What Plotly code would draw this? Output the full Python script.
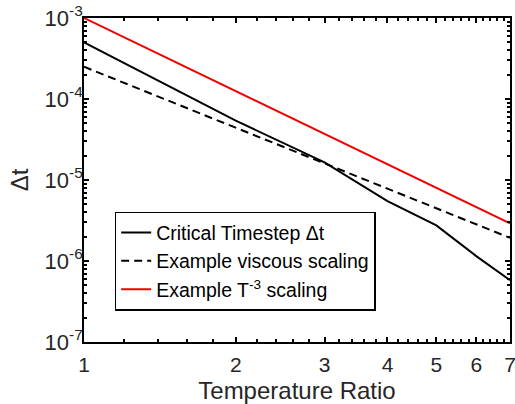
import math
import plotly.graph_objects as go

# Temperature ratio samples
temp_ratio = [1, 2, 3, 4, 5, 6, 7]

# Critical timestep found at each temperature ratio
critical_dt = [5.0e-4, 5.4e-5, 1.65e-5, 5.5e-6, 2.75e-6, 1.15e-6, 5.8e-7]

# Example viscous scaling curve
viscous_dt = [2.5e-4, 4.42e-5, 1.6e-5, 7.8e-6, 4.47e-6, 2.84e-6, 1.93e-6]

# Example T^-3 scaling curve
cubic_dt = [1.0e-3, 1.25e-4, 3.7e-5, 1.56e-5, 8.0e-6, 4.63e-6, 2.92e-6]

# Axis ticks
x_ticks = [1, 2, 3, 4, 5, 6, 7]
y_ticks = [1e-7, 1e-6, 1e-5, 1e-4, 1e-3]
y_ticktext = ["10<sup>-7</sup>", "10<sup>-6</sup>", "10<sup>-5</sup>",
              "10<sup>-4</sup>", "10<sup>-3</sup>"]

# Minor tick positions: every 0.2 along x, 2..9 within each decade along y
x_minor = [round(1 + 0.2 * i, 1) for i in range(1, 30)]
x_minor = [v for v in x_minor if v not in x_ticks]
y_minor = [m * 10.0 ** e for e in range(-7, -3) for m in range(2, 10)]

FONT = "Liberation Sans, Arial, Helvetica, sans-serif"
TEXT = "#262626"

fig = go.Figure()
fig.add_trace(go.Scatter(
    x=temp_ratio, y=critical_dt, mode="lines",
    name="Critical Timestep \u0394t",
    line=dict(color="black", width=2),
))
fig.add_trace(go.Scatter(
    x=temp_ratio, y=viscous_dt, mode="lines",
    name="Example viscous scaling",
    line=dict(color="black", width=2, dash="8px,5px"),
))
fig.add_trace(go.Scatter(
    x=temp_ratio, y=cubic_dt, mode="lines",
    name="Example T<sup>-3</sup> scaling",
    line=dict(color="#f00000", width=2),
))

axis_common = dict(
    showline=True, linecolor="black", linewidth=1.8, mirror="ticks",
    ticks="inside", tickcolor="black", ticklen=5, tickwidth=1.5,
    showgrid=False, zeroline=False, automargin=False,
    ticklabeloverflow="allow",
)

fig.update_xaxes(
    type="log", range=[0, math.log10(7)],
    tickmode="array", tickvals=x_ticks, ticktext=[str(v) for v in x_ticks],
    tickfont=dict(family=FONT, size=21, color=TEXT),
    minor=dict(ticks="inside", ticklen=3, tickwidth=1.5, tickcolor="black",
               tickmode="array", tickvals=x_minor, showgrid=False),
    ticklabelstandoff=3,
    title=dict(text="Temperature Ratio",
               font=dict(family=FONT, size=24, color=TEXT), standoff=9),
    **axis_common,
)
fig.update_yaxes(
    type="log", range=[-7, -3],
    tickmode="array", tickvals=y_ticks, ticktext=y_ticktext,
    tickfont=dict(family=FONT, size=22, color=TEXT),
    minor=dict(ticks="inside", ticklen=3, tickwidth=1.5, tickcolor="black",
               tickmode="array", tickvals=y_minor, showgrid=False),
    ticklabelstandoff=-5,
    title=dict(text="\u0394t",
               font=dict(family=FONT, size=24, color=TEXT), standoff=9),
    **axis_common,
)

fig.update_layout(
    width=515, height=404,
    margin=dict(l=84, r=5, t=18, b=62),
    paper_bgcolor="white", plot_bgcolor="white",
    showlegend=True,
    legend=dict(
        x=0.072, y=0.402, xanchor="left", yanchor="top",
        bgcolor="white", bordercolor="black", borderwidth=1.5,
        font=dict(family=FONT, size=19.5, color="black"),
        tracegroupgap=0,
    ),
)

fig.write_html("out.html")
